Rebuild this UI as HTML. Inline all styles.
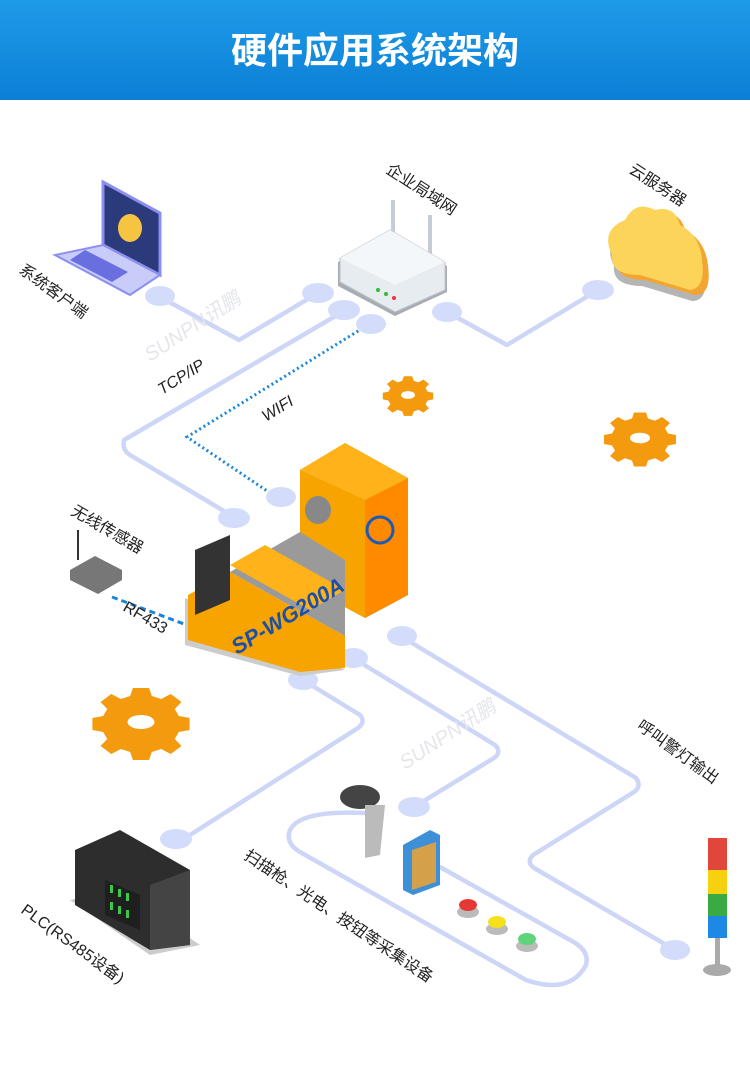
<!DOCTYPE html>
<html><head><meta charset="utf-8"><style>
body{margin:0;width:750px;height:1062px;overflow:hidden;background:#fff;font-family:"Liberation Sans","Noto Sans CJK SC",sans-serif}
</style></head><body>
<svg width="750" height="1062" viewBox="0 0 750 1062" xmlns="http://www.w3.org/2000/svg" font-family="Liberation Sans, Noto Sans CJK SC, sans-serif">
<defs>
<linearGradient id="hd" x1="0" y1="0" x2="0" y2="1"><stop offset="0" stop-color="#1e9be8"/><stop offset="1" stop-color="#0b7fd6"/></linearGradient>
<g id="gear"><path d="M-6,-34h12l2,8 7,3 7,-5 8,8 -5,7 3,7 8,2v12l-8,2 -3,7 5,7 -8,8 -7,-5 -7,3 -2,8h-12l-2,-8 -7,-3 -7,5 -8,-8 5,-7 -3,-7 -8,-2v-12l8,-2 3,-7 -5,-7 8,-8 7,5 7,-3z" fill="#f39a0f"/><ellipse cx="0" cy="0" rx="10" ry="7" fill="#fff"/></g>
</defs>
<rect width="750" height="100" fill="url(#hd)"/>
<text x="375" y="63" font-size="36" fill="#fff" text-anchor="middle" font-weight="bold" font-family="Liberation Sans, Noto Sans CJK SC, sans-serif">硬件应用系统架构</text>

<g fill="none" stroke="#cdd6f6" stroke-width="4.5" stroke-linejoin="round" stroke-linecap="round">
<path d="M160,297 L239,340 L318,293"/>
<path d="M344,311 L124,440 Q122,450 130,455 L234,517"/>
<path d="M447,312 L507,345 L598,290"/>
<path d="M303,680 L360,715 Q366,722 358,728 L190,835"/>
<path d="M353,658 L495,745 Q502,752 494,758 L414,807"/>
<path d="M402,637 L636,778 Q642,786 634,792 L533,855 Q526,862 534,868 L675,950"/>
<path d="M364,813 Q300,810 290,830 Q285,843 300,852 L526,980 Q570,995 586,965 Q590,950 570,940 L440,867"/>
</g>
<path d="M371,323 L187,437 L276,497" fill="none" stroke="#1a86d8" stroke-width="3" stroke-dasharray="2,3"/>
<path d="M112,597 L192,627" fill="none" stroke="#1a86d8" stroke-width="3" stroke-dasharray="6,4"/>
<g fill="#d3dcfa">
<ellipse cx="160" cy="296" rx="15" ry="10"/><ellipse cx="318" cy="293" rx="16" ry="10"/>
<ellipse cx="344" cy="310" rx="16" ry="10"/><ellipse cx="371" cy="324" rx="15" ry="10"/>
<ellipse cx="447" cy="312" rx="15" ry="10"/><ellipse cx="598" cy="290" rx="16" ry="10"/>
<ellipse cx="234" cy="518" rx="16" ry="10"/><ellipse cx="281" cy="497" rx="15" ry="10"/>
<ellipse cx="402" cy="636" rx="15" ry="10"/><ellipse cx="353" cy="658" rx="15" ry="10"/>
<ellipse cx="303" cy="680" rx="15" ry="10"/><ellipse cx="176" cy="839" rx="16" ry="10"/>
<ellipse cx="414" cy="807" rx="16" ry="10"/><ellipse cx="675" cy="950" rx="15" ry="10"/>
</g>

<!-- laptop -->
<polygon points="103,182 160,213 160,275 103,245" fill="#2b3a7a" stroke="#8a8ff0" stroke-width="3"/>
<ellipse cx="130" cy="228" rx="12" ry="14" fill="#f5c542"/>
<polygon points="103,245 160,275 130,295 55,255" fill="#c9ccf8" stroke="#8a8ff0" stroke-width="2"/>
<polygon points="85,250 128,272 112,282 70,260" fill="#6a6fe0"/>
<!-- router -->
<rect x="391" y="200" width="4" height="45" fill="#c5ccd6"/><rect x="428" y="215" width="4" height="40" fill="#c5ccd6"/>
<polygon points="338,262 390,234 447,266 447,292 395,316 338,286" fill="#a8adb4"/>
<polygon points="340,258 390,230 445,262 445,290 395,312 340,282" fill="#e7ecf0" stroke="#bcc3cb"/>
<polygon points="340,258 390,230 445,262 395,285" fill="#f4f7f9"/>
<circle cx="378" cy="290" r="2" fill="#3b3"/><circle cx="386" cy="294" r="2" fill="#3b3"/><circle cx="394" cy="298" r="2" fill="#e33"/>
<!-- cloud -->
<path d="M614,266 Q602,241 627,231 Q637,211 657,221 Q677,216 682,236 Q702,246 705,271 Q709,301 692,301 L642,286 Q612,286 614,266z" fill="#b5b5b5"/>
<path d="M617,260 Q605,235 630,225 Q640,205 660,215 Q680,210 685,230 Q705,240 708,265 Q712,295 695,295 L645,280 Q615,280 617,260z" fill="#f2a531"/>
<path d="M612,255 Q600,230 625,220 Q635,200 655,210 Q675,205 680,225 Q700,235 702,260 Q706,288 690,290 L640,275 Q610,275 612,255z" fill="#fcd45a"/>
<!-- gears -->
<g transform="translate(408,395) scale(0.7,0.55)"><use href="#gear"/></g>
<g transform="translate(640,438) scale(1,0.75)"><use href="#gear"/></g>
<g transform="translate(141,722) scale(1.35,1)"><use href="#gear"/></g>
<!-- machine -->
<polygon points="300,470 345,443 408,478 408,595 365,618 300,583" fill="#f7a400"/>
<polygon points="365,500 408,478 408,595 365,618" fill="#ff8a00"/>
<polygon points="300,470 345,443 408,478 365,500" fill="#ffb21a"/>
<circle cx="380" cy="530" r="13" fill="none" stroke="#1c5bb5" stroke-width="3"/>
<ellipse cx="318" cy="510" rx="13" ry="14" fill="#888"/>
<polygon points="185,598 345,670 300,676 185,645" fill="#ccc"/>
<polygon points="188,595 230,572 345,636 345,668 300,672 188,640" fill="#f7a400"/>
<polygon points="230,572 300,532 345,560 345,636" fill="#9a9a9a"/>
<polygon points="195,550 230,535 230,600 195,615" fill="#333"/>
<polygon points="230,565 265,545 345,590 310,610" fill="#ffb21a"/>
<text transform="translate(237,655) rotate(-31)" font-size="22" font-weight="bold" font-style="italic" fill="#1c4fa8">SP-WG200A</text>
<!-- sensor -->
<rect x="77" y="530" width="2" height="30" fill="#333"/>
<polygon points="70,570 95,556 122,570 122,580 98,594 70,580" fill="#777"/>
<!-- PLC -->
<polygon points="70,900 150,955 200,945 120,890" fill="#ccc"/>
<polygon points="75,850 120,830 190,870 190,945 150,950 75,905" fill="#2d2d2d"/>
<polygon points="150,885 190,870 190,945 150,950" fill="#444"/>
<polygon points="105,880 140,895 140,930 105,915" fill="#1f1f1f"/>
<g fill="#39c84a"><rect x="110" y="885" width="3" height="8"/><rect x="118" y="889" width="3" height="8"/><rect x="126" y="893" width="3" height="8"/><rect x="110" y="902" width="3" height="8"/><rect x="118" y="906" width="3" height="8"/><rect x="126" y="910" width="3" height="8"/></g>
<!-- scanner -->
<ellipse cx="360" cy="797" rx="20" ry="12" fill="#444"/>
<polygon points="365,805 385,805 380,855 365,858" fill="#bbb"/>
<!-- photo -->
<polygon points="403,845 430,830 440,835 440,885 413,895 403,890" fill="#3d8fd8"/>
<polygon points="412,850 436,842 436,882 412,890" fill="#d4a04a"/>
<!-- buttons -->
<ellipse cx="468" cy="912" rx="11" ry="6" fill="#bbb"/><ellipse cx="468" cy="905" rx="9" ry="6" fill="#e53935"/>
<ellipse cx="497" cy="929" rx="11" ry="6" fill="#bbb"/><ellipse cx="497" cy="922" rx="9" ry="6" fill="#f4e11c"/>
<ellipse cx="527" cy="946" rx="11" ry="6" fill="#bbb"/><ellipse cx="527" cy="939" rx="9" ry="6" fill="#5fd47a"/>
<!-- light tower -->
<rect x="708" y="838" width="19" height="32" fill="#e0463a"/><rect x="708" y="870" width="19" height="24" fill="#f5d10f"/>
<rect x="708" y="894" width="19" height="22" fill="#3aab43"/><rect x="708" y="916" width="19" height="22" fill="#1e88e5"/>
<rect x="715" y="938" width="5" height="30" fill="#aaa"/><ellipse cx="717" cy="970" rx="14" ry="6" fill="#aaa"/>

<!-- watermarks -->
<text transform="translate(150,362) rotate(-33)" font-size="20" fill="#e4e6ea" font-style="italic">SUNPN讯鹏</text>
<text transform="translate(405,770) rotate(-33)" font-size="20" fill="#e4e6ea" font-style="italic">SUNPN讯鹏</text>

<g font-size="16" fill="#222">
<text transform="translate(18,272) rotate(36)">系统客户端</text>
<text transform="translate(385,172) rotate(33)">企业局域网</text>
<text transform="translate(628,172) rotate(33)">云服务器</text>
<text transform="translate(162,395) rotate(-32)" font-style="italic">TCP/IP</text>
<text transform="translate(266,422) rotate(-32)" font-style="italic">WIFI</text>
<text transform="translate(70,514) rotate(30)">无线传感器</text>
<text transform="translate(122,610) rotate(30)">RF433</text>
<text transform="translate(636,728) rotate(36)">呼叫警灯输出</text>
<text transform="translate(243,858) rotate(34)">扫描枪、光电、按钮等采集设备</text>
<text transform="translate(20,912) rotate(36)">PLC(RS485设备)</text>
</g>
</svg>
</body></html>
